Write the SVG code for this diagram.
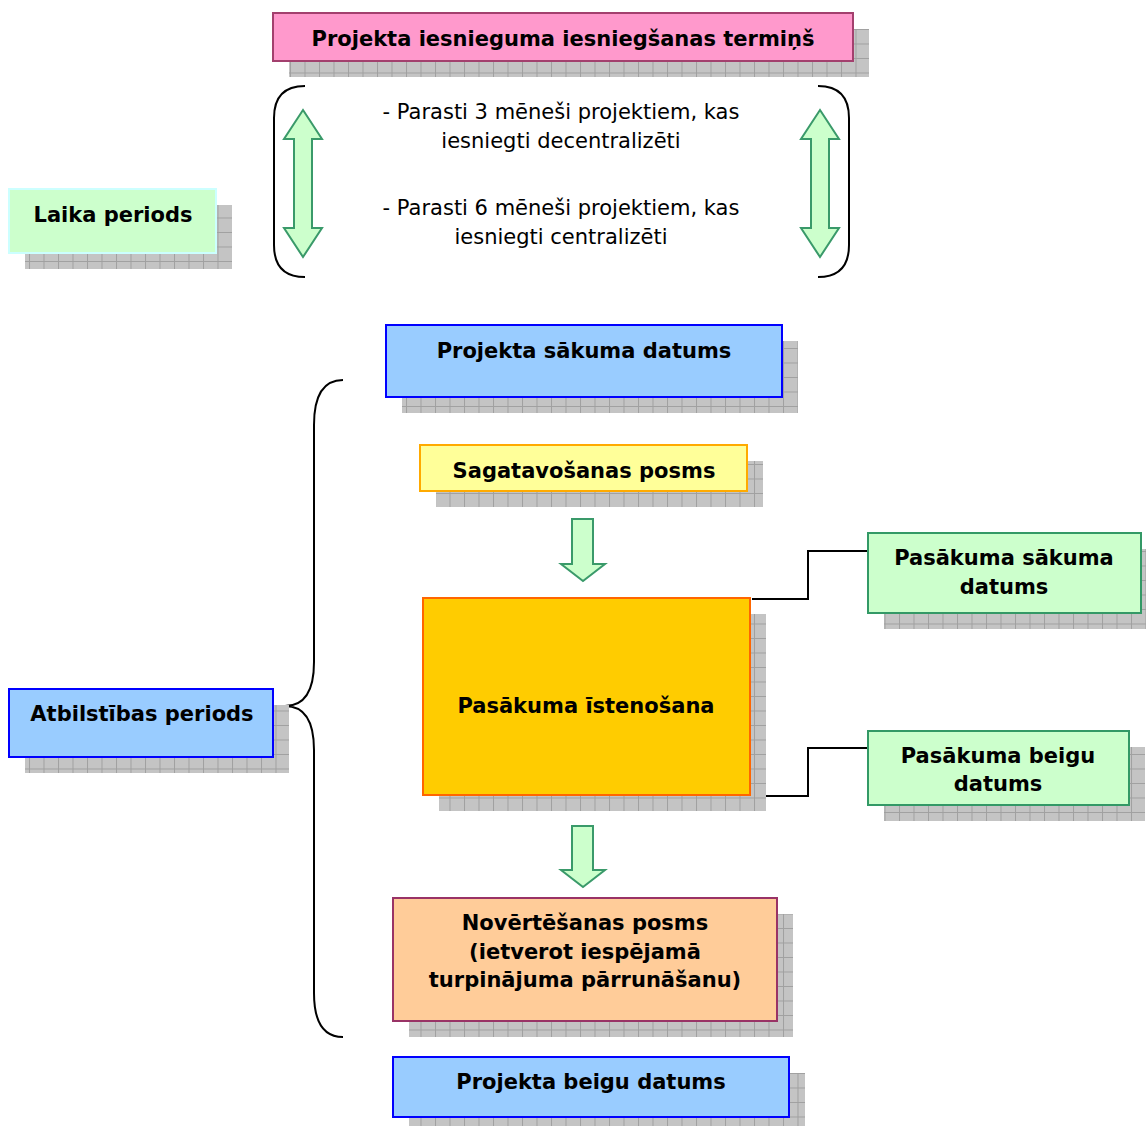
<svg xmlns="http://www.w3.org/2000/svg" width="1146" height="1126" viewBox="0 0 1146 1126">
<defs>
<pattern id="grid" width="14.5" height="14.5" patternUnits="userSpaceOnUse">
<rect width="14.5" height="14.5" fill="#c4c4c4"/>
<path d="M0 0.5H14.5M0.5 0V14.5" stroke="#a0a0a0" stroke-width="1" fill="none"/>
</pattern>
<style>
.sh{fill:url(#grid);}
.t{font-family:"DejaVu Sans","Liberation Sans",sans-serif;font-weight:bold;font-size:21px;fill:#000;text-anchor:middle;}
.r{font-family:"DejaVu Sans","Liberation Sans",sans-serif;font-size:21px;fill:#000;text-anchor:middle;}
.blue{fill:#99ccff;stroke:#0000ff;stroke-width:2;}
.garrow{fill:#ccffcc;stroke:#3a9a6a;stroke-width:2;stroke-linejoin:miter;}
.line{fill:none;stroke:#000;stroke-width:2;}
</style>
</defs>
<rect width="1146" height="1126" fill="#fff"/>

<g id="connectors">
<path class="line" d="M752 599H808V551H868"/>
<path class="line" d="M752 796H808V748H868"/>
<path class="line" d="M305 86Q274 86 274 118V245Q274 277 305 277"/>
<path class="line" d="M818 86Q849 86 849 118V245Q849 277 818 277"/>
<path class="line" d="M343 380Q314 380 314 425V662Q314 706 285 706Q314 706 314 750V993Q314 1037 343 1037"/>
<path class="garrow" d="M303 110L322 139H312V228H322L303 257L284 228H294V139H284Z"/>
<path class="garrow" d="M820 110L839 139H829V228H839L820 257L801 228H811V139H801Z"/>
<path class="garrow" d="M572 519H593V564H605L583 581L561 564H572Z"/>
<path class="garrow" d="M572 826H593V870H605L583 887L561 870H572Z"/>
</g>

<g id="n-termins">
<rect class="sh" x="289" y="29" width="580" height="48"/>
<rect x="273" y="13" width="580" height="48" fill="#ff99cc" stroke="#a3406e" stroke-width="2"/>
<text class="t" x="563" y="46">Projekta iesnieguma iesniegšanas termiņš</text>
</g>

<g id="n-laika">
<rect class="sh" x="25" y="205" width="207" height="64"/>
<rect x="9" y="189" width="207" height="64" fill="#ccffcc" stroke="#ccffff" stroke-width="2"/>
<text class="t" x="113" y="222">Laika periods</text>
</g>

<g id="n-text">
<text class="r" x="561" y="119">- Parasti 3 mēneši projektiem, kas</text>
<text class="r" x="561" y="148">iesniegti decentralizēti</text>
<text class="r" x="561" y="215">- Parasti 6 mēneši projektiem, kas</text>
<text class="r" x="561" y="244">iesniegti centralizēti</text>
</g>

<g id="n-sakuma">
<rect class="sh" x="402" y="341" width="396" height="72"/>
<rect class="blue" x="386" y="325" width="396" height="72"/>
<text class="t" x="584" y="358">Projekta sākuma datums</text>
</g>

<g id="n-sagat">
<rect class="sh" x="436" y="461" width="327" height="46"/>
<rect x="420" y="445" width="327" height="46" fill="#ffff99" stroke="#ffaa00" stroke-width="2"/>
<text class="t" x="584" y="478">Sagatavošanas posms</text>
</g>

<g id="n-isten">
<rect class="sh" x="439" y="614" width="327" height="197"/>
<rect x="423" y="598" width="327" height="197" fill="#ffcc00" stroke="#ff6600" stroke-width="2"/>
<text class="t" x="586" y="713">Pasākuma īstenošana</text>
</g>

<g id="n-psakuma">
<rect class="sh" x="884" y="549" width="273" height="80"/>
<rect x="868" y="533" width="273" height="80" fill="#ccffcc" stroke="#339966" stroke-width="2"/>
<text class="t" x="1004" y="565">Pasākuma sākuma</text>
<text class="t" x="1004" y="594">datums</text>
</g>

<g id="n-pbeigu">
<rect class="sh" x="884" y="747" width="261" height="74"/>
<rect x="868" y="731" width="261" height="74" fill="#ccffcc" stroke="#339966" stroke-width="2"/>
<text class="t" x="998" y="763">Pasākuma beigu</text>
<text class="t" x="998" y="791">datums</text>
</g>

<g id="n-atbilst">
<rect class="sh" x="25" y="705" width="264" height="68"/>
<rect class="blue" x="9" y="689" width="264" height="68"/>
<text class="t" x="142" y="721">Atbilstības periods</text>
</g>

<g id="n-novert">
<rect class="sh" x="409" y="914" width="384" height="123"/>
<rect x="393" y="898" width="384" height="123" fill="#ffcc99" stroke="#993366" stroke-width="2"/>
<text class="t" x="585" y="930">Novērtēšanas posms</text>
<text class="t" x="585" y="959">(ietverot iespējamā</text>
<text class="t" x="585" y="987">turpinājuma pārrunāšanu)</text>
</g>

<g id="n-pbeigas">
<rect class="sh" x="409" y="1073" width="396" height="60"/>
<rect class="blue" x="393" y="1057" width="396" height="60"/>
<text class="t" x="591" y="1089">Projekta beigu datums</text>
</g>
</svg>
